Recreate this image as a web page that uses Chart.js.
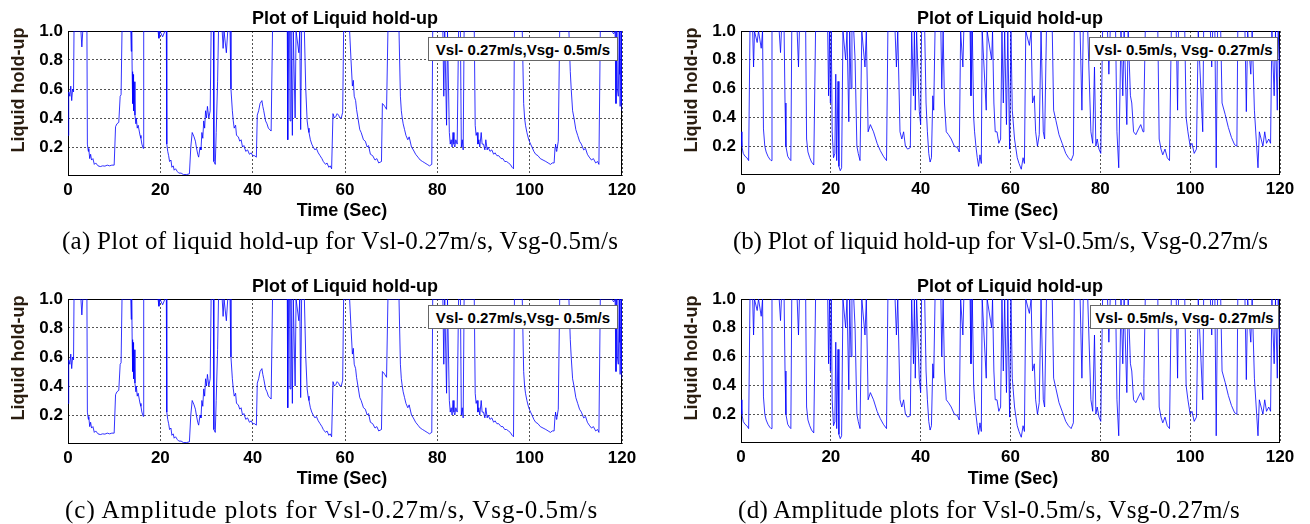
<!DOCTYPE html>
<html>
<head>
<meta charset="utf-8">
<script src="https://cdn.jsdelivr.net/npm/chart.js"></script>
<style>
  body { margin: 0; width: 1310px; height: 524px; background: #fff; position: relative; overflow: hidden; }
  canvas { position: absolute; }
  .txt { position: absolute; white-space: nowrap; font-family: "Liberation Sans", Arial, sans-serif; font-weight: bold; color: #000; }
  .ttl { font-size: 18px; transform: translate(-50%, -50%); }
  .ylab { font-size: 18px; color: #2a1d10; transform: translate(-50%, -50%) rotate(-90deg); }
  .xlab { font-size: 18px; transform: translate(-50%, -50%); }
  .leg { font-size: 15px; background: #fff; border: 1px solid #666; box-sizing: border-box; display: flex; align-items: center; justify-content: center; }
  .cap { position: absolute; white-space: nowrap; font-family: "Liberation Serif", "Times New Roman", serif; font-size: 25px; color: #000; transform: translateY(-50%); }
</style>
</head>
<body>
<canvas id="chartA" width="650" height="230" style="left:0px;top:0px"></canvas>
<canvas id="chartB" width="650" height="230" style="left:660px;top:0px"></canvas>
<canvas id="chartC" width="650" height="230" style="left:0px;top:268px"></canvas>
<canvas id="chartD" width="650" height="230" style="left:660px;top:268px"></canvas>
<script>
// tick values
const xTicks = [0, 20, 40, 60, 80, 100, 120];
const yTicks = [0.2, 0.4, 0.6, 0.8, 1.0];

// Vsl 0.27 m/s, Vsg 0.5 m/s : [time (sec), liquid hold-up]
const samplesA = [
  [0, 0.28], [0.1, 0.42], [0.2, 0.58], [0.4, 0.55], [0.6, 0.62], [0.8, 0.52], [1.0, 0.60], [1.2, 0.58], [1.3, 1.0], [2.8, 1.0],
  [3.0, 0.89], [3.2, 1.0], [4.1, 1.0], [4.2, 0.22], [4.4, 0.17], [4.5, 0.19], [4.7, 0.12], [4.9, 0.15], [5.1, 0.11], [5.4, 0.12],
  [5.7, 0.08], [6.0, 0.09], [6.5, 0.07], [7.0, 0.065], [7.5, 0.07], [8.0, 0.068], [8.5, 0.075], [9.0, 0.07], [9.5, 0.075], [10.0, 0.075],
  [10.3, 0.34], [10.6, 0.36], [11.0, 0.37], [11.3, 0.55], [11.5, 0.56], [11.7, 1.0], [13.6, 1.0], [13.7, 0.86], [13.8, 1.0], [13.9, 0.72],
  [14.0, 0.5], [14.1, 0.7], [14.2, 0.45], [14.3, 0.65], [14.5, 0.42], [14.7, 0.36], [14.8, 0.4], [15.0, 0.33], [15.2, 0.35], [15.6, 0.28],
  [15.8, 0.26], [16.0, 0.22], [16.3, 0.19], [16.4, 1.0], [19.5, 1.0], [19.7, 0.95], [19.9, 1.0], [20.5, 0.96], [21.0, 1.0], [21.3, 1.0],
  [21.4, 0.22], [21.6, 0.17], [21.8, 0.14], [22.0, 0.10], [22.3, 0.11], [22.5, 0.06], [22.8, 0.07], [23.0, 0.04], [23.3, 0.05], [23.7, 0.03],
  [24.0, 0.02], [24.5, 0.02], [25.0, 0.01], [25.7, 0.01], [26.3, 0.015], [26.6, 0.20], [26.9, 0.30], [27.3, 0.27], [27.6, 0.24], [27.8, 0.20],
  [28.1, 0.15], [28.3, 0.13], [28.6, 0.20], [28.8, 0.18], [29.0, 0.30], [29.2, 0.26], [29.4, 0.38], [29.6, 0.33], [29.8, 0.45], [30.0, 0.40],
  [30.2, 0.48], [30.5, 0.40], [30.8, 0.45], [31.0, 1.0], [31.5, 1.0], [31.6, 0.10], [31.9, 0.08], [32.1, 0.30], [32.4, 0.65], [32.6, 1.0],
  [33.4, 1.0], [33.6, 0.88], [33.8, 1.0], [34.3, 0.85], [34.6, 1.0], [35.1, 1.0], [35.3, 0.60], [35.6, 0.45], [35.8, 0.38], [36.0, 0.33],
  [36.3, 0.35], [36.5, 0.28], [36.9, 0.27], [37.2, 0.24], [37.5, 0.25], [37.8, 0.20], [38.1, 0.21], [38.5, 0.17], [38.9, 0.18], [39.3, 0.15],
  [39.7, 0.16], [40.0, 0.14], [40.4, 0.14], [40.8, 0.13], [41.0, 0.42], [41.3, 0.45], [41.6, 0.50], [42.0, 0.52], [42.2, 0.48], [42.4, 0.45],
  [42.8, 0.38], [43.1, 0.36], [43.4, 0.33], [44.0, 0.31], [44.3, 1.0], [47.5, 1.0], [47.6, 0.25], [47.8, 1.0], [48.0, 1.0], [48.1, 0.38],
  [48.3, 1.0], [48.6, 0.28], [48.8, 1.0], [49.2, 0.40], [49.4, 1.0], [50.0, 0.85], [50.2, 1.0], [50.4, 0.32], [50.6, 1.0], [51.2, 1.0],
  [51.5, 0.60], [51.8, 0.38], [52.0, 0.33], [52.2, 0.30], [52.5, 0.25], [52.8, 0.22], [53.1, 0.20], [53.5, 0.18], [53.8, 0.19], [54.2, 0.16],
  [54.6, 0.14], [55.0, 0.12], [55.3, 0.10], [55.8, 0.08], [56.1, 0.09], [56.5, 0.06], [56.8, 0.07], [57.1, 0.05], [57.4, 0.43], [57.7, 0.40],
  [58.0, 0.41], [58.3, 0.43], [58.6, 0.42], [58.9, 0.40], [59.2, 0.40], [59.5, 0.44], [59.7, 1.0], [61.0, 1.0], [61.3, 0.80], [61.6, 0.62],
  [61.8, 0.66], [62.0, 0.55], [62.3, 0.52], [62.5, 0.46], [62.8, 0.40], [63.2, 0.32], [63.5, 0.30], [64.0, 0.25], [64.4, 0.24], [64.8, 0.20],
  [65.1, 0.21], [65.5, 0.15], [66.0, 0.14], [66.5, 0.11], [66.9, 0.12], [67.3, 0.09], [67.9, 0.10], [68.1, 0.50], [68.4, 0.49], [68.6, 0.48],
  [69.0, 0.46], [69.3, 1.0], [71.7, 1.0], [72.0, 0.55], [72.2, 0.45], [72.4, 0.40], [72.6, 0.36], [72.9, 0.32], [73.2, 0.28], [73.6, 0.25],
  [73.9, 0.27], [74.4, 0.20], [74.8, 0.18], [75.3, 0.15], [75.8, 0.13], [76.3, 0.11], [76.8, 0.10], [77.3, 0.09], [77.8, 0.08], [78.3, 0.07],
  [78.8, 0.08], [79.0, 1.0], [81.2, 1.0], [81.4, 0.55], [81.6, 1.0], [82.0, 0.35], [82.2, 1.0], [82.6, 0.30], [82.8, 0.22], [83.0, 0.25],
  [83.2, 0.20], [83.4, 0.30], [83.6, 0.22], [83.8, 0.20], [84.0, 0.25], [84.3, 0.22], [84.6, 1.0], [85.0, 1.0], [85.2, 0.20], [85.4, 0.25],
  [85.6, 0.18], [85.8, 1.0], [88.0, 1.0], [88.2, 0.35], [88.4, 0.28], [88.6, 0.30], [88.8, 0.22], [89.0, 0.25], [89.2, 0.20], [89.5, 0.30],
  [89.7, 0.22], [90.0, 0.22], [90.3, 0.18], [90.5, 0.25], [90.8, 0.18], [91.0, 0.20], [91.4, 0.17], [91.8, 0.18], [92.2, 0.15], [92.5, 0.16],
  [92.9, 0.14], [93.3, 0.14], [93.8, 0.12], [94.2, 0.12], [94.6, 0.10], [95.0, 0.10], [95.4, 0.09], [95.8, 0.08], [96.2, 0.06], [96.5, 0.05],
  [96.7, 1.0], [98.4, 1.0], [98.7, 0.50], [98.9, 0.40], [99.1, 0.35], [99.4, 0.30], [99.8, 0.25], [100.2, 0.22], [100.5, 0.20], [100.9, 0.17],
  [101.3, 0.15], [101.8, 0.14], [102.3, 0.12], [102.9, 0.11], [103.5, 0.10], [104.0, 0.09], [104.5, 0.08], [104.9, 0.09], [105.3, 0.09], [105.5, 0.20],
  [105.6, 0.22], [105.8, 0.17], [105.9, 0.18], [106.2, 0.24], [106.5, 1.0], [108.5, 1.0], [108.8, 0.72], [109.0, 0.60], [109.3, 0.45], [109.6, 0.40],
  [110.0, 0.32], [110.4, 0.28], [110.8, 0.24], [111.2, 0.22], [111.7, 0.18], [112.1, 0.19], [112.5, 0.15], [112.9, 0.13], [113.4, 0.11], [113.8, 0.12],
  [114.3, 0.09], [114.7, 0.10], [115.0, 0.08], [115.3, 1.0], [117.8, 1.0], [118.2, 0.98], [118.5, 1.0], [118.7, 0.50], [118.9, 1.0], [119.0, 0.60],
  [119.2, 0.55], [119.4, 1.0], [119.5, 0.70], [119.6, 0.48], [119.8, 1.0], [119.9, 0.50], [120.0, 0.45]
];

// Vsl 0.5 m/s, Vsg 0.27 m/s
const timeB = [0.0, 0.2, 0.5, 0.9, 1.3, 1.7, 2.0, 2.6, 2.8, 3.0, 3.6, 3.9, 4.5, 4.8, 5.0, 5.3, 5.6, 6.0, 6.4, 6.7, 6.9, 8.5, 8.8,
  9.0, 9.6, 9.8, 10.0, 10.4, 10.8, 11.1, 11.3, 12.5, 12.8, 13.0, 14.4, 14.6, 14.9, 15.3, 15.7, 16.2, 16.6, 19.3, 19.5, 19.7, 19.9,
  20.1, 20.3, 20.6, 20.9, 21.1, 21.3, 21.6, 21.8, 22.1, 22.4, 22.7, 23.3, 23.6, 24.0, 24.2, 24.5, 24.7, 25.1, 25.4, 25.8, 26.1,
  26.5, 26.9, 27.6, 27.9, 28.3, 28.8, 29.5, 30.3, 31.0, 31.7, 32.4, 32.7, 34.3, 34.6, 34.9, 35.4, 35.8, 36.2, 36.6, 37.1, 37.7,
  38.0, 38.4, 38.6, 38.8, 39.1, 39.7, 40.0, 40.2, 40.9, 41.2, 41.5, 41.8, 42.1, 42.4, 42.7, 42.9, 43.2, 44.5, 44.7, 45.0, 45.3,
  45.7, 46.2, 46.8, 47.5, 48.2, 48.6, 48.9, 49.4, 49.6, 51.0, 51.2, 51.5, 51.8, 52.0, 52.3, 52.6, 52.9, 53.2, 53.5, 53.7, 54.6,
  54.8, 55.8, 56.0, 56.3, 56.6, 57.0, 57.4, 57.8, 58.1, 58.4, 58.7, 59.1, 59.4, 59.8, 60.1, 60.4, 60.9, 61.5, 61.9, 62.4, 62.8,
  63.1, 63.4, 64.2, 64.6, 64.9, 65.3, 65.6, 66.0, 66.4, 66.8, 67.3, 67.6, 68.0, 69.3, 69.6, 70.1, 70.8, 71.5, 72.3, 72.9, 73.5,
  74.0, 74.2, 75.5, 75.9, 76.2, 77.2, 77.6, 77.9, 78.3, 78.7, 79.0, 79.3, 79.7, 80.1, 80.5, 81.6, 81.9, 82.2, 83.4, 83.7, 84.1,
  84.6, 85.0, 85.3, 85.9, 86.2, 86.7, 87.0, 87.4, 87.9, 88.5, 89.0, 89.5, 89.7, 90.0, 92.8, 93.1, 93.5, 93.9, 94.4, 94.9, 95.4,
  95.8, 96.9, 97.2, 97.4, 98.8, 99.1, 99.5, 100.0, 100.4, 100.9, 101.4, 101.8, 102.8, 103.0, 104.5, 104.8, 105.0, 105.5, 105.8,
  106.1, 106.8, 107.1, 107.8, 108.5, 109.2, 109.9, 110.4, 110.6, 112.2, 112.5, 112.8, 113.5, 113.8, 114.3, 114.8, 115.1, 115.4,
  115.8, 116.2, 116.6, 117.0, 117.5, 117.9, 118.2, 118.7, 119.0, 119.4, 119.6, 120.0];
const holdupB = [0.30, 0.20, 0.15, 0.13, 0.12, 0.10, 1.0, 1.0, 0.75, 1.0, 0.92, 1.0, 0.88, 1.0, 0.32, 0.20, 0.16, 0.13, 0.11, 0.10, 1.0, 1.0, 0.85,
  1.0, 1.0, 0.50, 0.20, 0.13, 0.11, 0.10, 1.0, 1.0, 0.75, 1.0, 1.0, 0.25, 0.16, 0.12, 0.09, 0.07, 1.0, 1.0, 0.55, 1.0, 0.50,
  1.0, 0.30, 0.12, 0.15, 0.70, 0.10, 0.65, 0.06, 0.03, 0.05, 1.0, 0.80, 1.0, 0.37, 1.0, 0.60, 1.0, 1.0, 0.80, 0.20, 0.15,
  0.10, 1.0, 0.75, 1.0, 0.30, 0.35, 0.30, 0.22, 0.17, 0.13, 0.10, 1.0, 1.0, 0.75, 1.0, 0.30, 0.25, 0.30, 0.20, 0.18, 0.19,
  1.0, 0.55, 1.0, 0.45, 1.0, 0.44, 0.35, 1.0, 1.0, 0.50, 0.30, 0.15, 0.09, 0.12, 0.55, 0.45, 1.0, 1.0, 0.60, 1.0, 0.50,
  0.30, 0.28, 0.25, 0.20, 0.19, 0.16, 1.0, 0.75, 1.0, 1.0, 0.55, 1.0, 0.40, 0.30, 0.20, 0.12, 0.06, 0.14, 0.08, 1.0, 0.45,
  1.0, 0.80, 1.0, 0.50, 0.30, 0.30, 0.22, 0.25, 1.0, 0.50, 1.0, 0.35, 1.0, 0.18, 1.0, 0.45, 0.25, 0.12, 0.08, 0.04, 0.12,
  0.08, 1.0, 0.90, 1.0, 0.50, 0.55, 0.30, 0.20, 0.28, 1.0, 0.30, 0.25, 1.0, 1.0, 0.45, 0.38, 0.28, 0.22, 0.15, 0.12, 0.10,
  0.14, 1.0, 1.0, 0.45, 1.0, 1.0, 0.60, 0.30, 0.22, 0.75, 0.20, 0.25, 0.18, 0.15, 1.0, 1.0, 0.70, 1.0, 1.0, 0.30, 0.05,
  1.0, 0.55, 1.0, 0.35, 1.0, 0.55, 0.50, 0.30, 0.28, 0.32, 0.35, 0.30, 0.45, 1.0, 1.0, 0.25, 0.18, 0.14, 0.18, 0.12, 0.10,
  1.0, 1.0, 0.45, 1.0, 1.0, 0.40, 0.30, 0.20, 0.22, 0.15, 0.18, 1.0, 0.30, 1.0, 1.0, 0.75, 1.0, 1.0, 0.05,
  1.0, 1.0, 0.50, 0.42, 0.33, 0.26, 0.21, 0.20, 1.0, 1.0, 0.44, 1.0, 0.70, 1.0, 0.45, 0.20, 0.05, 0.30,
  0.25, 0.20, 0.30, 0.22, 0.25, 0.22, 1.0, 0.55, 1.0, 0.45, 1.0, 0.68];

const panelTitle = 'Plot of Liquid hold-up';
const yLabel = 'Liquid hold-up';
const xLabel = 'Time (Sec)';
const legendA = 'Vsl- 0.27m/s,Vsg- 0.5m/s';
const legendB = 'Vsl- 0.5m/s, Vsg- 0.27m/s';
const captions = [
  '(a) Plot of liquid hold-up for Vsl-0.27m/s, Vsg-0.5m/s',
  '(b) Plot of liquid hold-up for Vsl-0.5m/s, Vsg-0.27m/s',
  '(c) Amplitude plots for Vsl-0.27m/s, Vsg-0.5m/s',
  '(d) Amplitude plots for Vsl-0.5m/s, Vsg-0.27m/s'
];

// black frame around plot area (drawn under the data, like MATLAB)
const frameBox = {
  id: 'frameBox',
  beforeDatasetsDraw(chart) {
    const { ctx, chartArea: a } = chart;
    ctx.save();
    ctx.strokeStyle = '#000';
    ctx.lineWidth = 1;
    ctx.strokeRect(Math.round(a.left) + 0.5, Math.round(a.top) + 0.5, Math.round(a.width) - 1, Math.round(a.height) - 1);
    ctx.restore();
  }
};

function addText(cls, text, x, y, extra) {
  const d = document.createElement('div');
  d.className = 'txt ' + cls;
  d.textContent = text;
  d.style.left = x + 'px';
  d.style.top = y + 'px';
  if (extra) Object.assign(d.style, extra);
  document.body.appendChild(d);
  return d;
}

function makePanel(id, pts, yAxisW, padRight, xAxisH) {
  const tickFont = { family: '"Liberation Sans", Arial, sans-serif', size: 17, weight: 'bold' };
  new Chart(document.getElementById(id), {
    type: 'line',
    data: {
      datasets: [{
        data: pts,
        borderColor: 'rgba(0, 0, 255, 0.8)',
        borderWidth: 1,
        pointRadius: 0,
        tension: 0,
        fill: false
      }]
    },
    options: {
      responsive: false,
      animation: false,
      layout: { padding: { left: 0, right: padRight, top: 31, bottom: 0 } },
      plugins: { legend: { display: false }, tooltip: { enabled: false } },
      scales: {
        x: {
          type: 'linear', min: 0, max: 120,
          afterBuildTicks: s => { s.ticks = xTicks.map(v => ({ value: v })); },
          afterFit: s => { s.height = xAxisH; },
          ticks: { font: tickFont, color: '#000', padding: 4, maxRotation: 0, callback: v => String(v) },
          grid: { color: '#555', lineWidth: 1, drawTicks: false },
          border: { display: false, dash: [2, 2] }
        },
        y: {
          min: 0, max: 1,
          afterBuildTicks: s => { s.ticks = yTicks.map(v => ({ value: v })); },
          afterFit: s => { s.width = yAxisW; },
          ticks: { font: tickFont, color: '#000', padding: 5, callback: v => v.toFixed(1) },
          grid: { color: '#555', lineWidth: 1, drawTicks: false },
          border: { display: false, dash: [2, 2] }
        }
      }
    },
    plugins: [frameBox]
  });
}

const ptsA = samplesA.map(p => ({ x: p[0], y: p[1] }));
const ptsB = timeB.map((t, i) => ({ x: t, y: holdupB[i] }));

makePanel('chartA', ptsA, 68, 28, 54);
makePanel('chartB', ptsB, 81, 30, 55);
makePanel('chartC', ptsA, 68, 28, 54);
makePanel('chartD', ptsB, 81, 30, 55);

// titles, axis labels, legends
const panels = [
  { cx: 345, top: 0, ylx: 18, xlx: 342, leg: legendA, lx: 428, lw: 190 },
  { cx: 1010, top: 0, ylx: 691, xlx: 1013, leg: legendB, lx: 1089, lw: 189 },
  { cx: 345, top: 268, ylx: 18, xlx: 342, leg: legendA, lx: 428, lw: 190 },
  { cx: 1010, top: 268, ylx: 691, xlx: 1013, leg: legendB, lx: 1090, lw: 189 }
];
panels.forEach(p => {
  addText('ttl', panelTitle, p.cx, p.top + 18);
  addText('ylab', yLabel, p.ylx, p.top + 90);
  addText('xlab', xLabel, p.xlx, p.top + 210);
  addText('leg', p.leg, p.lx, p.top + 37, { width: p.lw + 'px', height: '24px' });
});

// captions: left edge and right edge in the page
const capSpan = [[62, 618, 241], [733, 1268, 241], [65, 597, 510], [738, 1240, 510]];
captions.forEach((c, i) => {
  const d = document.createElement('div');
  d.className = 'cap';
  d.textContent = c;
  d.style.left = capSpan[i][0] + 'px';
  d.style.top = capSpan[i][2] + 'px';
  document.body.appendChild(d);
  const w = d.getBoundingClientRect().width;
  const gap = (capSpan[i][1] - capSpan[i][0] - w) / (c.length - 1);
  d.style.letterSpacing = gap.toFixed(2) + 'px';
});
</script>
</body>
</html>
